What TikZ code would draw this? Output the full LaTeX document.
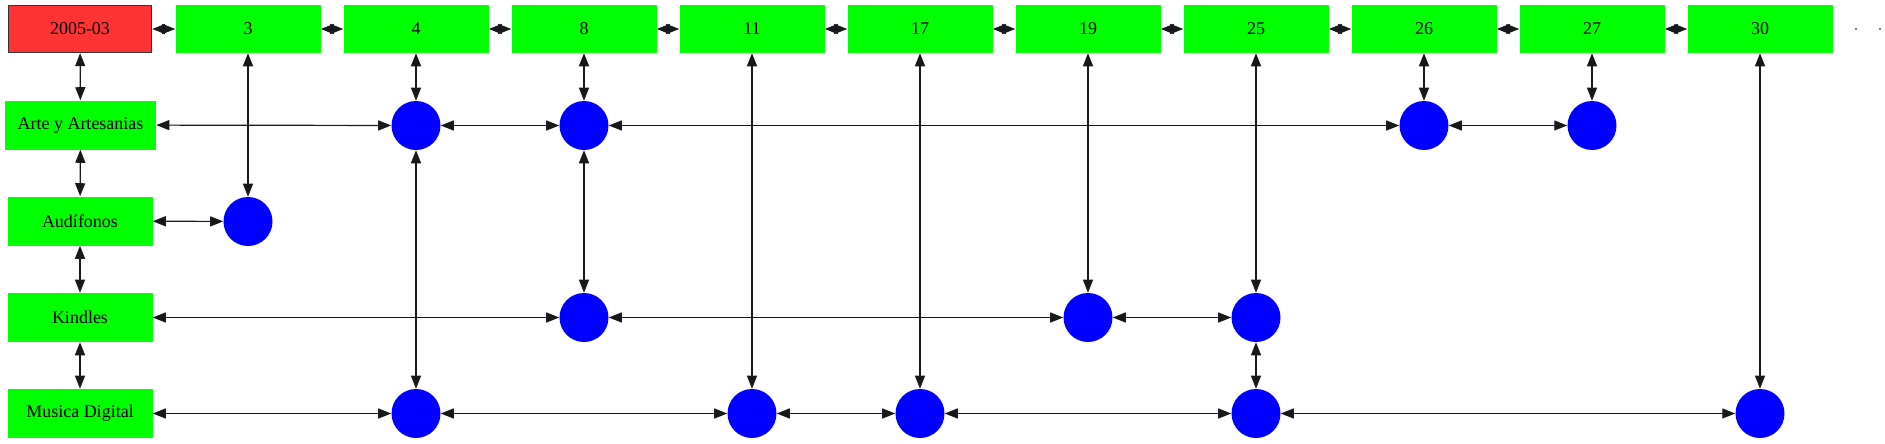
\documentclass[tikz,border=0pt]{standalone}
\usepackage{fontspec}
\setmainfont{Liberation Serif}
\usetikzlibrary{arrows.meta}
\definecolor{hred}{RGB}{255,51,51}
\definecolor{hgreen}{RGB}{0,255,0}
\definecolor{hblue}{RGB}{0,0,255}

\begin{document}
\begin{tikzpicture}[x=0.75pt,y=-0.75pt,
    every node/.style={font=\fontsize{13.5}{16}\selectfont},
    hdr/.style={fill=hgreen,inner sep=0pt,minimum width=108.75pt,minimum height=36pt},
    first/.style={fill=hred,draw=black!80,line width=0.8pt,inner sep=0pt,minimum width=107.5pt,minimum height=35.5pt},
    cat/.style={fill=hgreen,inner sep=0pt,minimum width=108.75pt,minimum height=36.75pt},
    dot/.style={circle,fill=hblue,inner sep=0pt,minimum size=36.75pt},
    tick/.style={fill=gray,inner sep=0pt,minimum size=1.5pt},
    link/.style={>={Triangle[length=9.75pt,width=7.5pt]},<->,line width=0.9pt,black!90}]
        \useasboundingbox (0,0) rectangle (1885,443);
        % header row
        \draw (80,29) node[first] (h0) {2005-03};
        \draw (248,29) node[hdr] (h3) {3};
        \draw (416,29) node[hdr] (h4) {4};
        \draw (584,29) node[hdr] (h8) {8};
        \draw (752,29) node[hdr] (h11) {11};
        \draw (920,29) node[hdr] (h17) {17};
        \draw (1088,29) node[hdr] (h19) {19};
        \draw (1256,29) node[hdr] (h25) {25};
        \draw (1424,29) node[hdr] (h26) {26};
        \draw (1592,29) node[hdr] (h27) {27};
        \draw (1760,29) node[hdr] (h30) {30};
        \draw (1856,29) node[tick] (t1) {};
        \draw (1880,29) node[tick] (t2) {};

        % categories
        \draw (80.5,125) node[cat,minimum width=113.25pt] (arte) {Arte y Artesanias};
        \draw (80,221) node[cat] (audi) {Audífonos};
        \draw (80,317.5) node[cat] (kind) {Kindles};
        \draw (80,413.5) node[cat] (musi) {Musica Digital};

        % points
        \draw (416,125.5) node[dot] (arte4) {};
        \draw (584,125.5) node[dot] (arte8) {};
        \draw (1424,125.5) node[dot] (arte26) {};
        \draw (1592,125.5) node[dot] (arte27) {};
        \draw (248,221.5) node[dot] (audi3) {};
        \draw (584,317.5) node[dot] (kind8) {};
        \draw (1088,317.5) node[dot] (kind19) {};
        \draw (1256,317.5) node[dot] (kind25) {};
        \draw (416,413.5) node[dot] (musi4) {};
        \draw (752,413.5) node[dot] (musi11) {};
        \draw (920,413.5) node[dot] (musi17) {};
        \draw (1256,413.5) node[dot] (musi25) {};
        \draw (1760,413.5) node[dot] (musi30) {};

        % header chain
        \draw[link] (h0)--(h3);
        \draw[link] (h3)--(h4);
        \draw[link] (h4)--(h8);
        \draw[link] (h8)--(h11);
        \draw[link] (h11)--(h17);
        \draw[link] (h17)--(h19);
        \draw[link] (h19)--(h25);
        \draw[link] (h25)--(h26);
        \draw[link] (h26)--(h27);
        \draw[link] (h27)--(h30);

        % category chain
        \draw[link] (h0)--(arte);
        \draw[link] (arte)--(audi);
        \draw[link] (audi)--(kind);
        \draw[link] (kind)--(musi);

        % rows
        \draw[link] (arte)--(arte4);
        \draw[link] (arte4)--(arte8);
        \draw[link] (arte8)--(arte26);
        \draw[link] (arte26)--(arte27);
        \draw[link] (audi)--(audi3);
        \draw[link] (kind)--(kind8);
        \draw[link] (kind8)--(kind19);
        \draw[link] (kind19)--(kind25);
        \draw[link] (musi)--(musi4);
        \draw[link] (musi4)--(musi11);
        \draw[link] (musi11)--(musi17);
        \draw[link] (musi17)--(musi25);
        \draw[link] (musi25)--(musi30);

        % columns
        \draw[link] (h3)--(audi3);
        \draw[link] (h4)--(arte4);
        \draw[link] (arte4)--(musi4);
        \draw[link] (h8)--(arte8);
        \draw[link] (arte8)--(kind8);
        \draw[link] (h11)--(musi11);
        \draw[link] (h17)--(musi17);
        \draw[link] (h19)--(kind19);
        \draw[link] (h25)--(kind25);
        \draw[link] (kind25)--(musi25);
        \draw[link] (h26)--(arte26);
        \draw[link] (h27)--(arte27);
        \draw[link] (h30)--(musi30);
\end{tikzpicture}
\end{document}
